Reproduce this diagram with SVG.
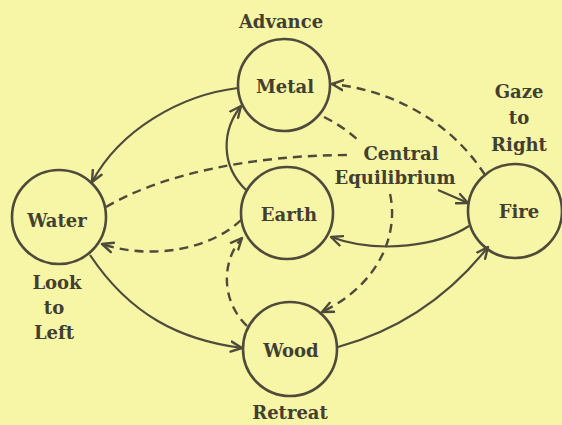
<svg xmlns="http://www.w3.org/2000/svg" width="562" height="425" viewBox="0 0 562 425">
<defs>
<marker id="arr" viewBox="-12 -7 14 14" markerWidth="14" markerHeight="14" refX="0" refY="0" orient="auto" markerUnits="userSpaceOnUse">
<path d="M -11,-5 L 0,0 L -11,5" fill="none" stroke="#4e4b3a" stroke-width="2.4" stroke-linecap="round" stroke-linejoin="round"/>
</marker>
<style>
.node circle{fill:none;stroke:#4e4b3a;stroke-width:2.6}
text{font-family:"DejaVu Serif","Liberation Serif",serif;font-weight:bold;font-size:18px;fill:#433f30;text-anchor:middle}
.c path{fill:none;stroke:#4e4b3a;stroke-width:2.2}
.c .d{stroke-dasharray:9 6;stroke-width:2.4}
</style>
</defs>
<rect width="562" height="425" fill="#f7f5a6"/>
<g class="c" id="connectors">
<path d="M 238,88 C 180,95 120,130 92,182" marker-end="url(#arr)"/>
<path d="M 246,190 C 220,165 222,130 241,106" marker-end="url(#arr)"/>
<path class="d" d="M 106,207 C 160,175 250,155 350,155"/>
<path d="M 438,190 L 468,203" marker-end="url(#arr)"/>
<path class="d" d="M 485,175 C 450,120 390,90 332,84" marker-end="url(#arr)"/>
<path class="d" d="M 324,117 C 420,165 410,270 322,312" marker-end="url(#arr)"/>
<path d="M 469,226 C 440,245 380,255 331,237" marker-end="url(#arr)"/>
<path d="M 338,347 C 400,330 450,295 488,247" marker-end="url(#arr)"/>
<path d="M 90,255 C 130,315 180,340 242,348" marker-end="url(#arr)"/>
<path class="d" d="M 241,220 C 210,250 150,260 102,244" marker-end="url(#arr)"/>
<path class="d" d="M 247,326 C 220,300 222,260 242,238" marker-end="url(#arr)"/>
</g>
<g class="node" id="metal"><circle cx="284" cy="85" r="46"/><text x="285" y="93">Metal</text></g>
<g class="node" id="earth"><circle cx="287" cy="213" r="46"/><text x="289" y="221">Earth</text></g>
<g class="node" id="water"><circle cx="59" cy="217" r="47"/><text x="57" y="227">Water</text></g>
<g class="node" id="wood"><circle cx="290" cy="349" r="47"/><text x="291" y="357">Wood</text></g>
<g class="node" id="fire"><circle cx="515" cy="211" r="47"/><text x="519" y="218">Fire</text></g>
<g id="labels">
<text x="281" y="28">Advance</text>
<text x="519" y="98">Gaze</text>
<text x="519" y="124">to</text>
<text x="519" y="151">Right</text>
<rect x="359" y="141" width="98" height="48" fill="#f7f5a6"/>
<text x="401" y="160">Central</text>
<text x="395" y="184">Equilibrium</text>
<text x="57" y="289">Look</text>
<text x="54" y="314">to</text>
<text x="54" y="339">Left</text>
<text x="290" y="419">Retreat</text>
</g>
</svg>
